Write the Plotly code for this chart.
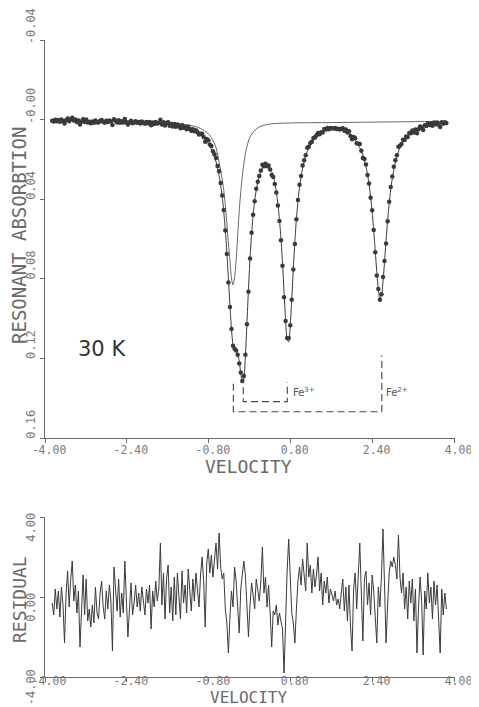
import plotly.graph_objects as go

# ---------------- data ----------------
# channel calibration (linear velocity drive), mm/s
VEL_START = -3.86
VEL_STEP = 0.0302

# measured resonant absorption per channel (256 channels)
ABSORPTION = [
    .0006, .0010, .0001, .0008, .0002, .0011, .0000, .0007, .0020, .0003, -.0005, .0008, -.0002, -.0009, .0005, .0000,
    .0012, .0004, .0024, .0009, -.0002, .0012, .0000, .0014, .0011, .0018, .0010, .0016, .0004, .0013, .0015, .0006,
    .0002, .0011, .0016, .0006, .0012, .0004, .0010, .0027, -.0002, .0006, .0014, .0003, .0016, .0008, .0015, -.0003,
    .0013, .0024, .0015, .0006, .0018, .0014, .0008, .0016, .0012, .0019, .0010, .0016, .0021, .0012, .0018, .0012,
    .0028, .0015, .0022, .0012, .0020, .0017, .0001, .0024, .0013, .0030, .0017, .0013, .0031, .0022, .0035, .0022,
    .0036, .0024, .0032, .0043, .0028, .0041, .0037, .0049, .0036, .0047, .0056, .0048, .0059, .0054, .0063, .0075,
    .0071, .0071, .0087, .0111, .0098, .0104, .0125, .0133, .0159, .0174, .0193, .0233, .0259, .0318, .0382, .0454,
    .0557, .0675, .0819, .0942, .1052, .1137, .1152, .1160, .1182, .1226, .1271, .1314, .1288, .1182, .1029, .0865,
    .0698, .0568, .0478, .0410, .0348, .0312, .0284, .0256, .0227, .0234, .0222, .0235, .0231, .0251, .0279, .0289,
    .0323, .0366, .0432, .0509, .0606, .0734, .0893, .1012, .1097, .1097, .1033, .0905, .0753, .0625, .0501, .0404,
    .0328, .0283, .0231, .0204, .0179, .0141, .0136, .0118, .0111, .0092, .0090, .0079, .0067, .0073, .0063, .0065,
    .0047, .0050, .0042, .0049, .0042, .0044, .0045, .0042, .0047, .0046, .0050, .0046, .0043, .0056, .0050, .0065,
    .0059, .0082, .0099, .0088, .0094, .0119, .0121, .0122, .0157, .0193, .0198, .0226, .0279, .0321, .0393, .0455,
    .0555, .0667, .0784, .0851, .0905, .0878, .0791, .0710, .0623, .0511, .0413, .0339, .0286, .0237, .0204, .0179,
    .0136, .0132, .0122, .0101, .0102, .0085, .0088, .0067, .0069, .0055, .0065, .0050, .0069, .0049, .0035, .0041,
    .0052, .0028, .0032, .0019, .0027, .0020, .0031, .0015, .0023, .0015, .0027, .0037, .0013, .0021, .0013, .0017,
]

# normalised residual per channel
RESIDUAL = [
    -0.3, -0.9, 0.4, -0.6, 0.3, -1.0, 0.5, -0.4, -2.3, 0.2, 1.3, -0.5, 0.9, 1.8, -0.2, 0.6,
    -0.8, 0.3, -2.5, -0.4, 1.1, -0.9, 0.9, -1.2, -0.6, -1.5, -0.4, -1.3, 0.5, -0.8, -1.1, 0.2,
    0.8, -0.5, -1.1, 0.3, -0.6, 0.6, -0.2, -2.7, 1.5, 0.4, -0.7, 0.9, -1.0, 0.2, -0.8, 1.8,
    -0.4, -2.0, -0.6, 0.7, -0.9, -0.3, 0.6, -0.5, 0.2, -0.7, 0.5, -0.2, -0.9, 0.4, -0.3, 0.6,
    -1.6, 0.3, -0.5, 0.8, -0.2, 0.4, 2.7, -0.4, 1.2, -1.1, 0.9, 1.6, -0.8, 0.5, -1.2, 1.0,
    -0.9, 1.2, 0.1, -1.1, 1.3, -0.3, 0.6, -0.8, 1.4, 0.2, -0.7, 0.9, -0.2, 1.2, 0.4, -0.5,
    1.1, 2.0, 0.8, -1.5, 1.7, 2.4, 1.2, 2.1, 1.0, 1.8, 2.7, 1.4, 3.2, 1.5, 0.9, 1.2,
    -0.6, -1.3, -2.8, -1.0, 0.3, -0.5, 1.5, 0.8, -0.9, -1.8, 0.4, 1.2, 1.8, 1.1, -0.6, -2.0,
    -0.4, 0.7, 0.1, -0.6, 0.9, 0.3, -0.2, 0.8, 2.5, 0.2, 1.0, -0.5, 0.6, -0.8, -2.5, -0.7,
    -0.9, -0.4, -1.4, -0.8, -1.2, -1.6, -3.8, -0.5, 1.3, 2.9, 0.6, -0.8, -1.3, -2.3, -0.6, 0.8,
    1.5, 0.6, 1.9, 1.1, 0.3, 2.7, 1.0, 1.6, 0.2, 1.4, 0.5, 1.1, 2.0, 0.3, 1.2, -0.4,
    0.8, 0.2, 1.0, -0.3, 0.4, 0.1, -0.2, 0.3, -0.4, -0.1, -0.6, 0.2, 0.9, -0.7, 0.5, -1.2,
    0.6, -1.5, -2.7, 0.4, 1.2, -0.6, 0.9, 2.7, 0.2, -2.2, 0.9, 1.3, -0.4, 0.7, -0.9, 1.1,
    0.3, -0.8, -2.3, 0.5, -0.5, 1.0, 3.4, 0.6, -2.3, -0.4, 1.2, 1.8, 1.5, 2.0, 1.6, 0.9,
    3.1, 1.0, 0.2, 1.2, -0.6, 0.5, -1.1, 0.8, -0.3, 0.9, -1.2, 0.4, -2.8, -0.5, 1.0, -0.2,
    -2.9, 0.3, -0.6, 1.2, -0.3, 0.5, -1.1, 0.8, -0.4, 0.6, -1.3, -2.8, 0.4, -0.9, 0.2, -0.6,
]

# fitted envelope (velocity, absorption)
FIT_VEL = [-3.86, -3.41, -2.92, -2.44, -1.96, -1.70, -1.44, -1.29, -1.14, -0.99,
           -0.961, -0.901, -0.840, -0.780, -0.719, -0.659, -0.629, -0.599, -0.568, -0.538,
           -0.508, -0.478, -0.448, -0.417, -0.387, -0.357, -0.327, -0.296, -0.266, -0.236,
           -0.206, -0.176, -0.145, -0.115, -0.085, -0.055, -0.025, 0.006, 0.036, 0.066,
           0.097, 0.127, 0.157, 0.187, 0.217, 0.248, 0.278, 0.308, 0.338, 0.368,
           0.399, 0.429, 0.459, 0.489, 0.519, 0.549, 0.580, 0.610, 0.640, 0.670,
           0.700, 0.731, 0.761, 0.791, 0.821, 0.852, 0.882, 0.912, 0.942, 0.972,
           1.002, 1.033, 1.063, 1.093, 1.123, 1.184, 1.244, 1.304, 1.365, 1.425,
           1.576, 1.697, 1.818, 1.908, 1.968, 2.029, 2.089, 2.119, 2.150, 2.180,
           2.210, 2.240, 2.270, 2.301, 2.331, 2.361, 2.391, 2.422, 2.452, 2.482,
           2.512, 2.542, 2.573, 2.603, 2.633, 2.663, 2.693, 2.724, 2.754, 2.784,
           2.814, 2.844, 2.875, 2.935, 2.996, 3.056, 3.117, 3.177, 3.237, 3.298,
           3.358, 3.478, 3.599, 3.720, 3.841]
FIT_ABS = [.0004, .0005, .0007, .0010, .0016, .0021, .0030, .0039, .0051, .0071,
           .0079, .0093, .0110, .0133, .0166, .0212, .0243, .0281, .0329, .0388,
           .0462, .0553, .0666, .0799, .0935, .1054, .1133, .1163, .1166, .1176,
           .1213, .1274, .1322, .1301, .1190, .1025, .0851, .0695, .0573, .0479,
           .0406, .0354, .0314, .0283, .0262, .0245, .0235, .0229, .0231, .0235,
           .0245, .0261, .0284, .0317, .0363, .0422, .0503, .0598, .0723, .0866,
           .1008, .1106, .1117, .1037, .0899, .0744, .0609, .0497, .0410, .0339,
           .0287, .0244, .0212, .0181, .0160, .0129, .0102, .0087, .0075, .0062,
           .0045, .0044, .0049, .0057, .0071, .0091, .0115, .0127, .0141, .0158,
           .0178, .0204, .0235, .0276, .0326, .0387, .0463, .0557, .0661, .0768,
           .0855, .0901, .0885, .0815, .0714, .0607, .0508, .0421, .0352, .0297,
           .0251, .0215, .0185, .0139, .0109, .0089, .0073, .0061, .0053, .0045,
           .0040, .0028, .0022, .0018, .0013]

# single sub-spectrum line (thin curve)
COMP_VEL = [-3.86, -2.6, -1.9, -1.5, -1.2, -1.0, -0.85, -0.75, -0.66, -0.58,
            -0.52, -0.47, -0.43, -0.39, -0.36, -0.33, -0.30, -0.27, -0.24, -0.20,
            -0.16, -0.12, -0.07, 0.00, 0.08, 0.20, 0.40, 0.80, 1.6, 2.6, 3.84]
COMP_ABS = [.0003, .0006, .0010, .0017, .0027, .0040, .0062, .0090, .0140, .0240,
            .0330, .0450, .0580, .0700, .0790, .0830, .0800, .0720, .0600, .0440,
            .0320, .0230, .0150, .0090, .0058, .0035, .0022, .0017, .0015, .0012, .0009]

# stick diagrams of the two doublets
FE2_VEL = [-0.32, -0.32, 2.58, 2.58]
FE2_ABS = [.1328, .1468, .1468, .1186]
FE3_VEL = [-0.126, -0.126, 0.734, 0.734]
FE3_ABS = [.1290, .1417, .1417, .1320]

X_TICKS = [-4.0, -2.4, -0.8, 0.8, 2.4, 4.0]
X_TICK_TEXT = ["-4.00", "-2.40", "-0.80", "0.80", "2.40", "4.00"]
Y_TICKS = [-0.04, 0.0, 0.04, 0.08, 0.12, 0.16]
Y_TICK_TEXT = ["-0.04", "-0.00", "0.04", "0.08", "0.12", "0.16"]
R_TICKS = [-4.0, 0.0, 4.0]
R_TICK_TEXT = ["-4.00", "0.00", "4.00"]

velocity = [round(VEL_START + VEL_STEP * i, 4) for i in range(len(ABSORPTION))]

# ---------------- figure ----------------
# the page body adds an 8 px margin, so the figure is 8 px smaller each way
OFF = 8
W, H = 479 - OFF, 707 - OFF


def px(xr):
    return (xr - OFF) / W


def py(yr):
    return 1 - (yr - OFF) / H


INK = "#3a3a3a"
AXC = "#6a6a6a"
TXT = "#7a7a7a"
MONO = "DejaVu Sans Mono"

fig = go.Figure()
fig.add_trace(go.Scatter(x=FIT_VEL, y=FIT_ABS, mode="lines",
                         line=dict(color=INK, width=1, shape="spline", smoothing=0.6),
                         xaxis="x", yaxis="y", hoverinfo="skip"))
fig.add_trace(go.Scatter(x=COMP_VEL, y=COMP_ABS, mode="lines",
                         line=dict(color="#555555", width=0.9, shape="spline", smoothing=0.8),
                         xaxis="x", yaxis="y", hoverinfo="skip"))
fig.add_trace(go.Scatter(x=velocity, y=ABSORPTION, mode="markers",
                         marker=dict(color=INK, size=4.5, line=dict(width=0)),
                         xaxis="x", yaxis="y"))
for sv, sa in ((FE2_VEL, FE2_ABS), (FE3_VEL, FE3_ABS)):
    fig.add_trace(go.Scatter(x=sv, y=sa, mode="lines",
                             line=dict(color="#444444", width=1.1, dash="7px,4px"),
                             xaxis="x", yaxis="y", hoverinfo="skip"))
fig.add_trace(go.Scatter(x=velocity, y=RESIDUAL, mode="lines",
                         line=dict(color=INK, width=1),
                         xaxis="x2", yaxis="y2"))

axis_common = dict(showline=True, linecolor=AXC, linewidth=1, showgrid=False, zeroline=False,
                   ticks="outside", ticklen=4, tickcolor=AXC, tickwidth=1, automargin=False)
xfont = dict(family=MONO, size=11.5, color=TXT)
yfont = dict(family=MONO, size=12, color=TXT)

xdom = [px(45), px(454.5)]
fig.update_layout(
    width=W, height=H, margin=dict(l=0, r=0, t=0, b=0, autoexpand=False),
    paper_bgcolor="white", plot_bgcolor="white", showlegend=False,
    xaxis=dict(domain=xdom, range=[-4, 4], tickvals=X_TICKS, ticktext=X_TICK_TEXT,
               anchor="y", ticklabelshift=4, ticklabelstandoff=-3, tickfont=xfont, **axis_common),
    yaxis=dict(domain=[py(438), py(40)], range=[0.16, -0.04], tickvals=Y_TICKS,
               ticktext=Y_TICK_TEXT, tickangle=-90, anchor="x", ticklabelshift=12,
               tickfont=yfont, **axis_common),
    xaxis2=dict(domain=xdom, range=[-4, 4], tickvals=X_TICKS, ticktext=X_TICK_TEXT,
                anchor="y2", ticklabelshift=4, ticklabelstandoff=-11, tickfont=xfont, **axis_common),
    yaxis2=dict(domain=[py(677), py(517)], range=[-4, 4], tickvals=R_TICKS,
                ticktext=R_TICK_TEXT, tickangle=-90, anchor="x2", ticklabelshift=12,
                tickfont=yfont, **axis_common),
)

title_font = dict(family=MONO, size=18, color="#6a6a6a")
ann = [
    dict(text="RESONANT ABSORBTION", x=px(19), y=py(236), xref="paper", yref="paper",
         textangle=-90, showarrow=False, font=dict(family=MONO, size=19, color="#6a6a6a"),
         xanchor="center", yanchor="middle"),
    dict(text="VELOCITY", x=px(248), y=py(466), xref="paper", yref="paper",
         showarrow=False, font=title_font, xanchor="center", yanchor="middle"),
    dict(text="RESIDUAL", x=px(19), y=py(600), xref="paper", yref="paper",
         textangle=-90, showarrow=False, font=dict(family=MONO, size=18, color="#6a6a6a"),
         xanchor="center", yanchor="middle"),
    dict(text="VELOCITY", x=px(248), y=py(697.5), xref="paper", yref="paper",
         showarrow=False, font=dict(family=MONO, size=16, color="#6a6a6a"),
         xanchor="center", yanchor="middle"),
    dict(text="30 K", x=-2.886, y=0.1152, xref="x", yref="y", showarrow=False,
         font=dict(family="DejaVu Sans", size=21, color="#333333"),
         xanchor="center", yanchor="middle"),
    dict(text="Fe<sup>3+</sup>", x=0.80, y=0.1369, xref="x", yref="y", showarrow=False,
         font=dict(family="DejaVu Sans", size=10, color="#555555"),
         xanchor="left", yanchor="middle"),
    dict(text="Fe<sup>2+</sup>", x=2.62, y=0.1369, xref="x", yref="y", showarrow=False,
         font=dict(family="DejaVu Sans", size=10, color="#555555"),
         xanchor="left", yanchor="middle"),
]
fig.update_layout(annotations=ann)

fig.write_html("out.html")
